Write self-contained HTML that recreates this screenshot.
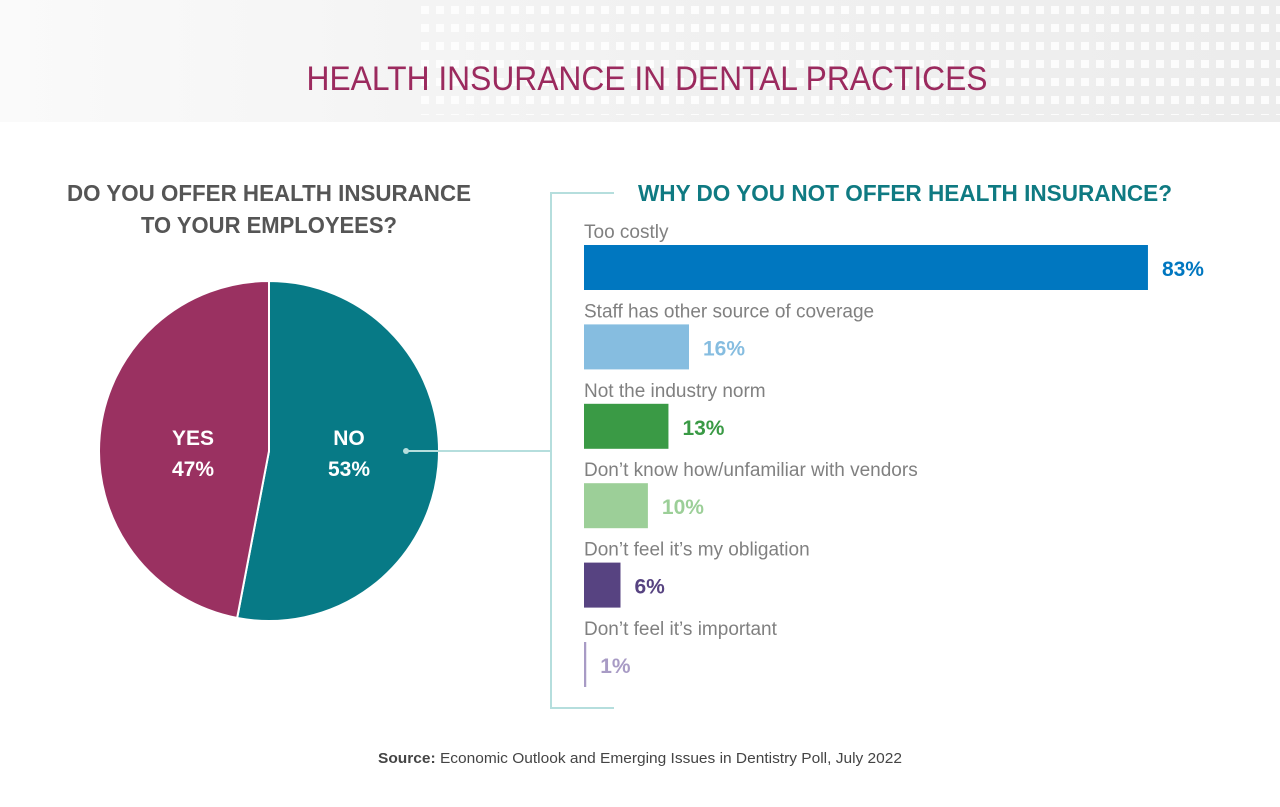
<!DOCTYPE html>
<html><head><meta charset="utf-8"><style>
body{margin:0;background:#fff}
svg{display:block;font-family:"Liberation Sans",sans-serif}
</style></head><body>
<svg width="1280" height="807" viewBox="0 0 1280 807">
<defs>
<linearGradient id="hg" x1="0" x2="1" y1="0" y2="0"><stop offset="0" stop-color="#fafafa"/><stop offset="0.5" stop-color="#f1f1f1"/><stop offset="1" stop-color="#ececec"/></linearGradient>
<pattern id="sq" x="540" y="0" width="15" height="18" patternUnits="userSpaceOnUse"><rect x="1" y="6" width="8" height="8" fill="#fff" opacity="0.85"/></pattern>
</defs>
<rect x="0" y="0" width="1280" height="122" fill="url(#hg)"/>
<rect x="420" y="0" width="860" height="115" fill="url(#sq)"/>
<text x="647" y="90" text-anchor="middle" font-size="34" fill="#9b2a5e" textLength="681" lengthAdjust="spacingAndGlyphs">HEALTH INSURANCE IN DENTAL PRACTICES</text>

<text x="269" y="201" text-anchor="middle" font-size="23" font-weight="bold" fill="#555" textLength="404" lengthAdjust="spacingAndGlyphs">DO YOU OFFER HEALTH INSURANCE</text>
<text x="269" y="233" text-anchor="middle" font-size="23" font-weight="bold" fill="#555" textLength="256" lengthAdjust="spacingAndGlyphs">TO YOUR EMPLOYEES?</text>
<g id="pie"></g>

<path d="M614 193 H551 V708 H614" fill="none" stroke="#b5dedd" stroke-width="2"/>
<line x1="406" y1="451" x2="551" y2="451" stroke="#b5dedd" stroke-width="2"/>
<circle cx="406" cy="451" r="3" fill="#b5dedd"/>
<text x="905" y="201" text-anchor="middle" font-size="23" font-weight="bold" fill="#0f7a82" textLength="534" lengthAdjust="spacingAndGlyphs">WHY DO YOU NOT OFFER HEALTH INSURANCE?</text>
<g id="bars"></g>

<text x="640" y="763" text-anchor="middle" font-size="15" fill="#444" textLength="524" lengthAdjust="spacingAndGlyphs"><tspan font-weight="bold">Source:</tspan> Economic Outlook and Emerging Issues in Dentistry Poll, July 2022</text>
</svg>
<script>
const pieLabels=["NO","YES"];
const pieValues=[53,47];
const pieColors=["#077a86","#9a3161"];
const barCategories=["Too costly","Staff has other source of coverage","Not the industry norm","Don\u2019t know how/unfamiliar with vendors","Don\u2019t feel it\u2019s my obligation","Don\u2019t feel it\u2019s important"];
const barValues=[83,16,13,10,6,1];
const barColors=["#0077c0","#86bde0","#3a9a45","#9ccf98","#574381","#a89bc5"];
const NS="http://www.w3.org/2000/svg";
function mk(t,a,p){const e=document.createElementNS(NS,t);for(const k in a)e.setAttribute(k,a[k]);p.appendChild(e);return e;}
// pie
const cx=269,cy=451,r=170,pie=document.getElementById('pie');
const total=pieValues.reduce((a,b)=>a+b,0);
let ang=0;
pieValues.forEach((v,i)=>{
  const a0=ang,a1=ang+v/total*2*Math.PI;ang=a1;
  const x0=cx+r*Math.sin(a0),y0=cy-r*Math.cos(a0),x1=cx+r*Math.sin(a1),y1=cy-r*Math.cos(a1);
  const p=mk('path',{d:`M${cx} ${cy} L${x0} ${y0} A${r} ${r} 0 ${a1-a0>Math.PI?1:0} 1 ${x1} ${y1} Z`,fill:pieColors[i],stroke:'#fff','stroke-width':2},pie);
  
  
  const lx=i==0?349:193;
  const t1=mk('text',{x:lx,y:445,'text-anchor':'middle','font-size':21,'font-weight':'bold',fill:'#fff'},pie);t1.textContent=pieLabels[i];
  
  
  const t2=mk('text',{x:lx,y:476,'text-anchor':'middle','font-size':21,'font-weight':'bold',fill:'#fff'},pie);t2.textContent=v+'%';
  
  
});
// bars
const bars=document.getElementById('bars');
const x0=584,rowTop=245,rowStep=79.4,bh=45;
const xs=v=>Math.max(6.85*v-4.6,2);
barCategories.forEach((c,i)=>{
  const y=rowTop+i*rowStep;
  const l=mk('text',{x:x0,y:y-7,'font-size':19,fill:'#808080'},bars);l.textContent=c;
  
  
  const w=xs(barValues[i]);
  const b=mk('rect',{x:x0,y:y,width:w,height:bh,fill:barColors[i]},bars);
  
  
  const t=mk('text',{x:x0+w+14,y:y+31,'font-size':21,'font-weight':'bold',fill:barColors[i]},bars);t.textContent=barValues[i]+'%';
  
  
});
</script>
</body></html>
